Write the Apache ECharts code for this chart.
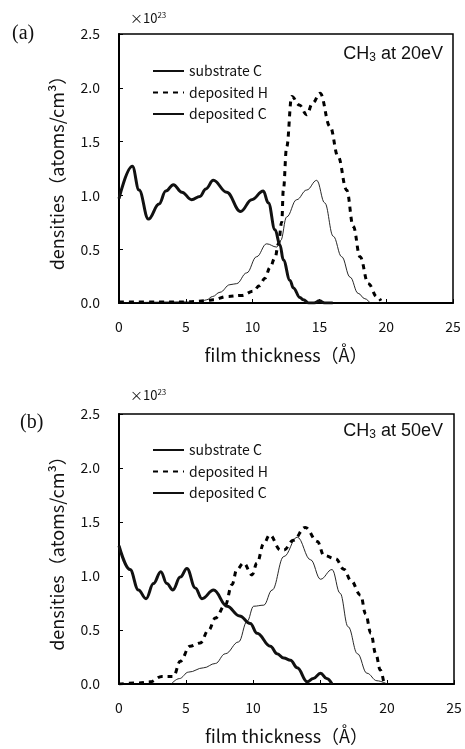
<!DOCTYPE html>
<html>
<head>
<meta charset="utf-8">
<script src="https://cdn.jsdelivr.net/npm/echarts@6/dist/echarts.min.js"></script>
<style>
  html, body { margin: 0; padding: 0; background: #fff; }
</style>
</head>
<body>
<div id="myChart" style="width: 465px; height: 749px;"></div>
<script>
// x tick labels / y tick labels
var xTicks = [0, 5, 10, 15, 20, 25];
var yTicks = [0, 0.5, 1.0, 1.5, 2.0, 2.5];

// (a) CH3 at 20eV
var subA_x = [0, 1.0, 1.5, 2.2, 3.0, 3.5, 4.07, 4.7, 5.44, 6.06, 6.5, 7.06, 8.06, 9.1, 9.93, 10.8, 11.18, 11.68, 12.05, 12.3, 12.8, 13.05, 13.55, 13.8, 14.2, 14.6, 15.0, 15.4, 16.0];
var subA_y = [0.97, 1.27, 1.05, 0.78, 0.92, 1.04, 1.10, 1.03, 0.96, 0.99, 1.06, 1.14, 1.03, 0.85, 0.96, 1.04, 0.93, 0.68, 0.54, 0.40, 0.21, 0.14, 0.05, 0.03, 0.0, 0.0, 0.02, 0.0, 0.0];
var hA_x = [0, 3, 5, 6.5, 7.06, 8.06, 9.18, 10.06, 10.5, 10.93, 11.3, 11.68, 11.93, 12.18, 12.3, 12.55, 12.93, 13.5, 14.05, 14.5, 15.05, 15.8, 16.4, 17.04, 17.54, 18.04, 18.66, 19.3, 19.6];
var hA_y = [0.01, 0.01, 0.01, 0.02, 0.03, 0.06, 0.07, 0.11, 0.16, 0.23, 0.33, 0.42, 0.55, 0.75, 1.05, 1.45, 1.92, 1.84, 1.75, 1.86, 1.95, 1.64, 1.36, 1.05, 0.71, 0.43, 0.18, 0.06, 0.02];
var cA_x = [0, 5, 6.0, 6.56, 7.0, 7.56, 8.3, 8.8, 9.56, 10.3, 11.05, 11.8, 12.1, 12.55, 13.3, 14.05, 14.8, 15.4, 16.04, 16.67, 17.3, 17.9, 18.4, 18.9, 20];
var cA_y = [0, 0.01, 0.0, 0.03, 0.06, 0.10, 0.17, 0.18, 0.28, 0.43, 0.55, 0.52, 0.58, 0.80, 0.96, 1.05, 1.14, 0.93, 0.62, 0.43, 0.24, 0.09, 0.04, 0.0, 0];

// (b) CH3 at 50eV
var subB_x = [0, 0.82, 1.45, 2.02, 2.57, 3.12, 3.57, 4.02, 4.57, 5.07, 5.69, 6.19, 7.06, 8.06, 9.0, 9.8, 10.3, 11.3, 11.8, 12.3, 12.8, 13.3, 14.05, 14.5, 15.04, 15.5, 15.9];
var subB_y = [1.28, 1.06, 0.87, 0.79, 0.93, 1.04, 0.93, 0.87, 0.99, 1.07, 0.89, 0.79, 0.87, 0.72, 0.63, 0.56, 0.47, 0.35, 0.28, 0.24, 0.22, 0.15, 0.02, 0.05, 0.10, 0.05, 0.0];
var hB_x = [0, 1.5, 2.32, 3.2, 4.06, 4.57, 5.3, 6.06, 6.69, 7.19, 7.93, 8.43, 8.8, 9.3, 9.93, 10.3, 10.8, 11.25, 12.05, 12.3, 13.0, 13.9, 14.8, 15.3, 16.17, 16.8, 17.3, 18.04, 18.4, 18.8, 19.16, 19.5, 19.75];
var hB_y = [0.0, 0.01, 0.02, 0.07, 0.07, 0.21, 0.35, 0.38, 0.50, 0.61, 0.73, 0.92, 1.06, 1.12, 1.01, 1.12, 1.30, 1.38, 1.24, 1.24, 1.33, 1.45, 1.32, 1.19, 1.16, 1.06, 0.96, 0.82, 0.65, 0.47, 0.28, 0.13, 0.02];
var cB_x = [3.9, 4.5, 5.19, 6.31, 7.19, 7.93, 8.93, 9.56, 10.05, 10.8, 11.43, 12.3, 13.3, 14.3, 15.04, 15.9, 16.5, 17.1, 17.8, 18.5, 19.25, 20.0];
var cB_y = [0.0, 0.05, 0.11, 0.15, 0.19, 0.28, 0.39, 0.58, 0.72, 0.73, 0.87, 1.18, 1.36, 1.15, 0.97, 1.06, 0.84, 0.53, 0.28, 0.10, 0.03, 0.0];

var names = ["substrate C", "deposited H", "deposited C"];
var font = "Noto Sans CJK JP";

function pairs(xs, ys) {
  var out = [];
  for (var i = 0; i < xs.length; i++) {
    out.push([xs[i], ys[i]]);
  }
  return out;
}

var styles = [
  { color: "#111", width: 3, type: "solid" },
  { color: "#000", width: 3, type: [5, 5] },
  { color: "#111", width: 0.9, type: "solid" }
];

function makeSeries(idx, k, xs, ys) {
  return {
    name: names[k],
    type: "line",
    xAxisIndex: idx,
    yAxisIndex: idx,
    smooth: 0.4,
    smoothMonotone: "x",
    showSymbol: false,
    symbol: "none",
    lineStyle: styles[k],
    itemStyle: { color: "#000" },
    data: pairs(xs, ys),
    z: 3 - k
  };
}

function xAxisOpt(idx) {
  return {
    type: "value",
    gridIndex: idx,
    min: xTicks[0],
    max: xTicks[xTicks.length - 1],
    interval: 5,
    name: "film thickness（Å）",
    nameLocation: "middle",
    nameGap: 43,
    nameTextStyle: { fontFamily: font, fontSize: 18, color: "#111" },
    axisLine: { onZero: false, lineStyle: { color: "#000", width: 2 } },
    axisTick: { inside: true, length: 4, lineStyle: { color: "#000" } },
    axisLabel: { margin: 17, fontFamily: font, fontSize: 14, color: "#111" },
    splitLine: { show: false }
  };
}

function yAxisOpt(idx) {
  return {
    type: "value",
    gridIndex: idx,
    min: yTicks[0],
    max: yTicks[yTicks.length - 1],
    interval: 0.5,
    name: "densities（atoms/cm³）",
    nameLocation: "middle",
    nameGap: 53,
    nameTextStyle: { fontFamily: font, fontSize: 18, color: "#111" },
    axisLine: { lineStyle: { color: "#000", width: 2 } },
    axisTick: { inside: true, length: 4, lineStyle: { color: "#000" } },
    axisLabel: {
      margin: 19, fontFamily: font, fontSize: 14, color: "#111",
      formatter: function (v) { return v.toFixed(1); }
    },
    splitLine: { show: false }
  };
}

function legendOpt(top) {
  return {
    data: names,
    orient: "vertical",
    left: 152,
    top: top,
    padding: 0,
    itemWidth: 31,
    itemHeight: 14,
    itemGap: 7.5,
    selectedMode: false,
    itemStyle: { opacity: 0 },
    textStyle: { fontFamily: font, fontSize: 14, color: "#111" }
  };
}

var sup = { sup: { fontSize: 8, fontFamily: font, verticalAlign: "top", padding: [0, 0, 6, 0] } };
var sub = { sub: { fontSize: 12, fontFamily: "Liberation Sans", padding: [7, 0, 0, 0] } };

var myChart = echarts.init(document.getElementById("myChart"), null, { renderer: "canvas" });

var option = {
  backgroundColor: "#fff",
  animation: false,
  grid: [
    { left: 119, top: 34, width: 334, height: 269, show: true, borderColor: "#000", borderWidth: 1.5 },
    { left: 119, top: 414, width: 335, height: 270, show: true, borderColor: "#000", borderWidth: 1.5 }
  ],
  xAxis: [xAxisOpt(0), xAxisOpt(1)],
  yAxis: [yAxisOpt(0), yAxisOpt(1)],
  legend: [legendOpt(64), legendOpt(443)],
  graphic: [
    { type: "text", left: 12, top: 24, style: { text: "(a)", font: "20px 'Liberation Serif'", fill: "#111" } },
    { type: "text", left: 20, top: 413, style: { text: "(b)", font: "20px 'Liberation Serif'", fill: "#111" } },
    { type: "text", left: 130, top: 11, style: { text: "×10{sup|23}", font: "13px " + font, fill: "#111", rich: sup } },
    { type: "text", left: 130, top: 388, style: { text: "×10{sup|23}", font: "13px " + font, fill: "#111", rich: sup } },
    { type: "text", right: 22, top: 45, style: { text: "CH{sub|3} at 20eV", font: "18px 'Liberation Sans'", fill: "#111", rich: sub } },
    { type: "text", right: 22, top: 422, style: { text: "CH{sub|3} at 50eV", font: "18px 'Liberation Sans'", fill: "#111", rich: sub } }
  ],
  series: [
    makeSeries(0, 0, subA_x, subA_y),
    makeSeries(0, 1, hA_x, hA_y),
    makeSeries(0, 2, cA_x, cA_y),
    makeSeries(1, 0, subB_x, subB_y),
    makeSeries(1, 1, hB_x, hB_y),
    makeSeries(1, 2, cB_x, cB_y)
  ]
};

myChart.setOption(option);
</script>
</body>
</html>
